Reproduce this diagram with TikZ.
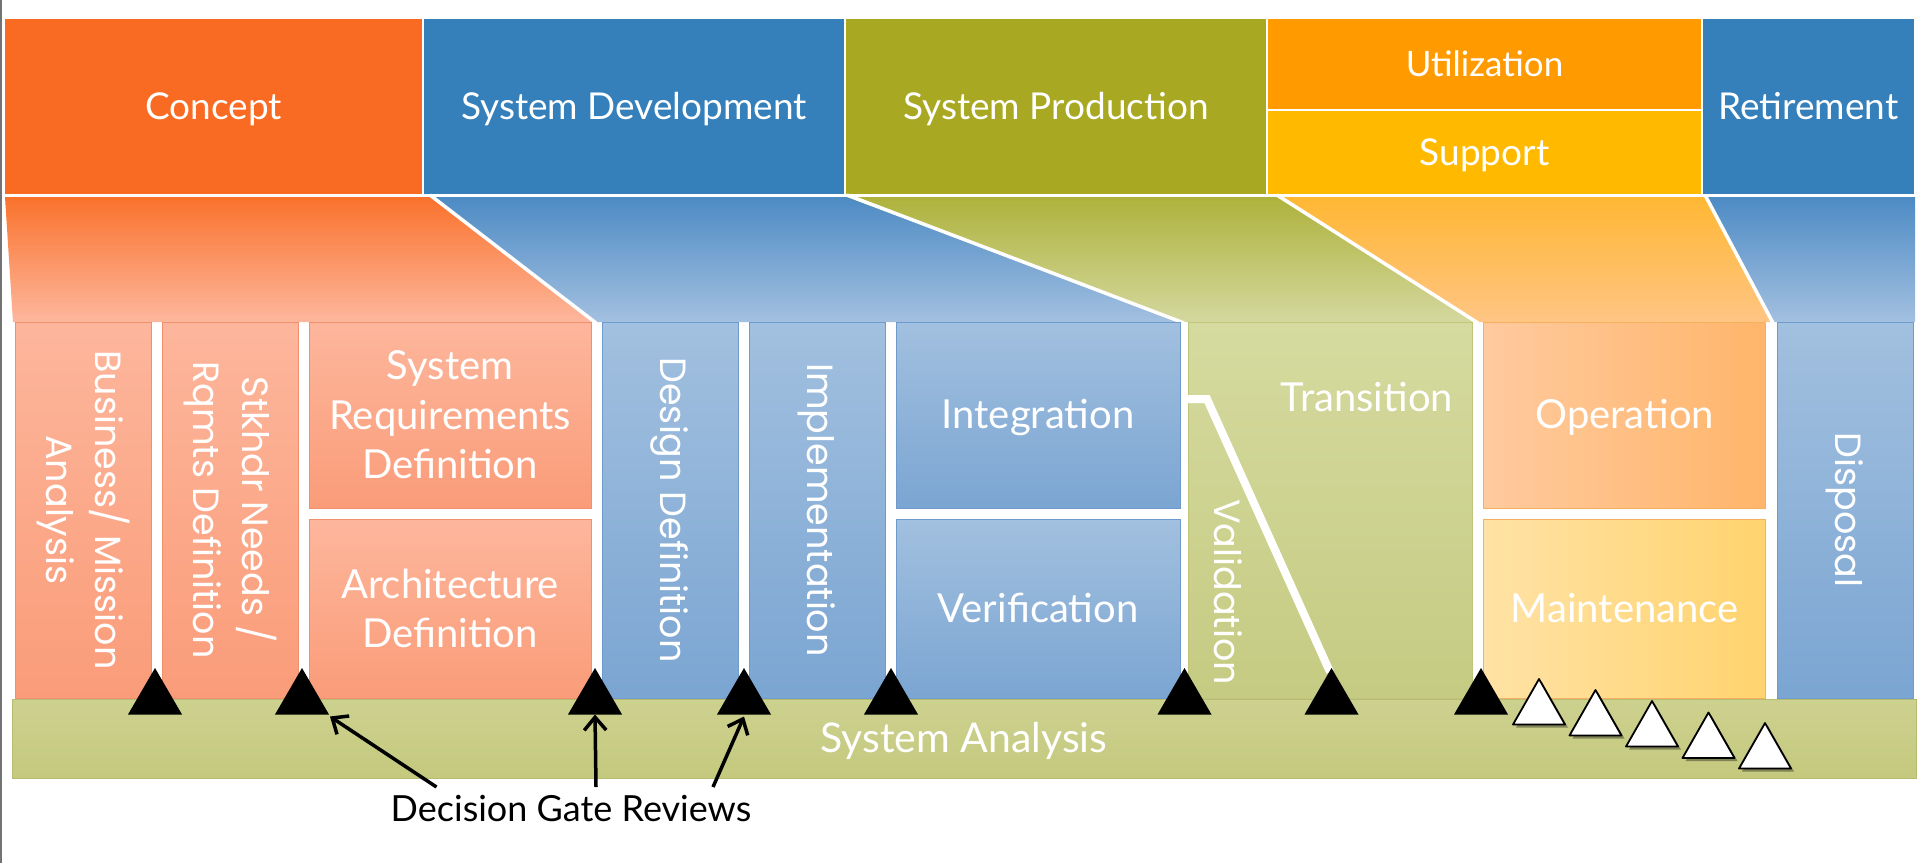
\documentclass[tikz,border=0pt]{standalone}
\usepackage{fontspec}
\setmainfont{Lato}
\newfontfamily\vfont{Poppins}
\usetikzlibrary{arrows.meta,shadows}
\definecolor{cConcept}{HTML}{F96B22}
\definecolor{cBlue}{HTML}{3580BB}
\definecolor{cOlive}{HTML}{A8A822}
\definecolor{cUtil}{HTML}{FF9A00}
\definecolor{cSupp}{HTML}{FFBA00}
\definecolor{fConT}{HTML}{FA722C}
\definecolor{fConB}{HTML}{FDB79D}
\definecolor{fBluT}{HTML}{4D8BC4}
\definecolor{fBluB}{HTML}{A3C0E0}
\definecolor{fGrnT}{HTML}{AEB23C}
\definecolor{fGrnB}{HTML}{D4D89E}
\definecolor{fOrT}{HTML}{FFB733}
\definecolor{fOrB}{HTML}{FFC584}
\definecolor{sT}{HTML}{FDB69C}
\definecolor{sB}{HTML}{FA9C79}
\definecolor{sBd}{HTML}{F0906C}
\definecolor{bT}{HTML}{A2C0DF}
\definecolor{bB}{HTML}{7BA5D2}
\definecolor{bBd}{HTML}{6E9BCB}
\definecolor{gT}{HTML}{D5DA9F}
\definecolor{gB}{HTML}{C5CB82}
\definecolor{gBd}{HTML}{BFC57A}
\definecolor{oL}{HTML}{FFCA9E}
\definecolor{oR}{HTML}{FFB56A}
\definecolor{mL}{HTML}{FFE2A5}
\definecolor{mR}{HTML}{FFD36E}
\definecolor{oBd}{HTML}{F5B060}
\definecolor{bandT}{HTML}{CDD18F}
\definecolor{bandB}{HTML}{C4C97E}
\definecolor{bandBd}{HTML}{B7BC70}
\newcommand\HFont{\fontsize{37}{47.6}\selectfont}
\newcommand\LFont{\fontsize{40}{49.5}\selectfont}
\newcommand\VFont{\vfont\fontsize{36.5}{49}\selectfont}
\begin{document}
\begin{tikzpicture}[x=1pt,y=-1pt,
  phase/.style={inner sep=0pt, outer sep=0pt, text=white, font=\HFont, align=center, text height=27pt, text depth=2pt},
  lowbox/.style={inner sep=0pt, outer sep=0pt, text=white, font=\LFont, align=center, line width=0.8pt},
  onel/.style={text height=29pt, text depth=2pt},
  salmon/.style={lowbox, top color=sT, bottom color=sB, draw=sBd},
  bluebox/.style={lowbox, top color=bT, bottom color=bB, draw=bBd},
  greenbox/.style={lowbox, top color=gT, bottom color=gB, draw=gBd},
  vlabel/.style={text=white, rotate=-90, align=center, font=\VFont, inner sep=0pt},
  hlabel/.style={text=white, align=center, font=\LFont, inner sep=0pt},
  gatetri/.style={fill=black},
  opentri/.style={fill=white, draw=black, line width=1.8pt, line join=round,
     drop shadow={shadow xshift=3pt, shadow yshift=-3pt, fill=black, opacity=0.35}},
  gate/.style={line width=3.5pt, -{Straight Barb[length=13pt,width=22pt]}},
  sep/.style={white, line width=3.5pt}
]
\useasboundingbox (0,0) rectangle (1918,863);
\fill[white] (0,0) rectangle (1918,863);
\fill[black!55] (0,0) rectangle (2,863);

% top phases
\node[phase, fill=cConcept, minimum width=417pt, minimum height=175pt] (concept) at (213.5,106.5) {Concept};
\node[phase, fill=cBlue, minimum width=420pt, minimum height=175pt] (sysdev) at (634,106.5) {System Development};
\node[phase, fill=cOlive, minimum width=420pt, minimum height=175pt] (sysprod) at (1056,106.5) {System Production};
\node[phase, fill=cUtil, minimum width=433pt, minimum height=90pt, font=\fontsize{35}{40}\selectfont] (util) at (1484.5,64) {Utilization};
\node[phase, fill=cSupp, minimum width=433pt, minimum height=83pt] (support) at (1484.5,152.5) {Support};
\node[phase, fill=cBlue, minimum width=211pt, minimum height=175pt] (retire) at (1808.5,106.5) {Retirement};

% funnels
\shade[top color=fConT, bottom color=fConB] (5,197) -- (430,197) -- (596,322) -- (13,322) -- cycle;
\shade[top color=fBluT, bottom color=fBluB] (430,197) -- (847,197) -- (1184,322) -- (596,322) -- cycle;
\shade[top color=fGrnT, bottom color=fGrnB] (847,197) -- (1277,197) -- (1478,322) -- (1184,322) -- cycle;
\shade[top color=fOrT, bottom color=fOrB] (1277,197) -- (1705,197) -- (1773,322) -- (1478,322) -- cycle;
\shade[top color=fBluT, bottom color=fBluB] (1705,197) -- (1915,197) -- (1915,322) -- (1773,322) -- cycle;
\draw[sep] (430,195) -- (596,323) (847,195) -- (1184,323) (1277,195) -- (1478,323) (1705,195) -- (1773,323);

% lower boxes
\node[salmon, minimum width=136pt, minimum height=376pt] (bma) at (83,510) {};
\node[salmon, minimum width=136pt, minimum height=376pt] (snr) at (230,510) {};
\node[salmon, minimum width=282pt, minimum height=186pt] (srd) at (450,415) {System\\Requirements\\Definition};
\node[salmon, minimum width=282pt, minimum height=179pt] (ad) at (450,608.5) {Architecture\\Definition};
\node[bluebox, minimum width=136pt, minimum height=376pt] (dd) at (670,510) {};
\node[bluebox, minimum width=136pt, minimum height=376pt] (impl) at (817,510) {};
\node[bluebox, onel, minimum width=284pt, minimum height=186pt] (integ) at (1038,415) {Integration};
\node[bluebox, onel, minimum width=284pt, minimum height=179pt] (verif) at (1038,608.5) {Verification};
\node[greenbox, minimum width=284pt, minimum height=376pt] (trans) at (1330,510) {};
\node[lowbox, onel, left color=oL, right color=oR, draw=oBd, minimum width=282pt, minimum height=186pt] (oper) at (1624.75,415) {Operation};
\node[lowbox, onel, left color=mL, right color=mR, draw=oBd, minimum width=282pt, minimum height=179pt] (maint) at (1624.75,608.5) {Maintenance};
\node[bluebox, minimum width=136pt, minimum height=376pt] (disp) at (1845,510) {};

% validation split
\draw[white, line width=8pt, line join=miter] (1186,399) -- (1207,399) -- (1330,672);

% labels
\node[vlabel] (lbma) at (bma) {Business/ Mission\\Analysis};
\node[vlabel] (lsnr) at (snr) {Stkhdr Needs /\\Rqmts Definition};
\node[vlabel] (ldd) at (dd) {Design Definition};
\node[vlabel] (limpl) at (impl) {Implementation};
\node[vlabel] (ldisp) at (disp) {Disposal};
\node[vlabel] (lval) at (1228,592) {Validation};
\node[hlabel, onel] (ltrans) at (1367,398) {Transition};

% system analysis band
\node[lowbox, onel, top color=bandT, bottom color=bandB, draw=bandBd, minimum width=1904pt, minimum height=79pt, font=\fontsize{41}{45}\selectfont] (band) at (964,738.5) {System Analysis};

% decision gates
\foreach \gx/\gn in {155/g1, 302/g2, 595/g3, 744/g4, 891/g5, 1184.5/g6, 1331.5/g7, 1481/g8} {
  \fill[gatetri] (\gx-27,714.5) -- (\gx,668) -- (\gx+27,714.5) -- cycle;
  \coordinate (\gn) at (\gx,714.5);
}
\coordinate (g2r) at (330,716.5);
\foreach \wx/\wy in {1539/679, 1595.5/690, 1652/701, 1708.5/712.5, 1765/723} {
  \path[opentri] (\wx-26,\wy+45.5) -- (\wx,\wy) -- (\wx+26,\wy+45.5) -- cycle;
}

\node[inner sep=2pt, font=\fontsize{36}{40}\selectfont, text=black] (dgr) at (571,808) {Decision Gate Reviews};
\coordinate (s1) at (436.5,787);
\coordinate (s2) at (596,787);
\coordinate (s3) at (713,787);
\coordinate (e3) at (744,716.5);
\draw[gate] (s1) -- (g2r);
\draw[gate] (s2) -- (g3);
\draw[gate] (s3) -- (e3);
\end{tikzpicture}
\end{document}
